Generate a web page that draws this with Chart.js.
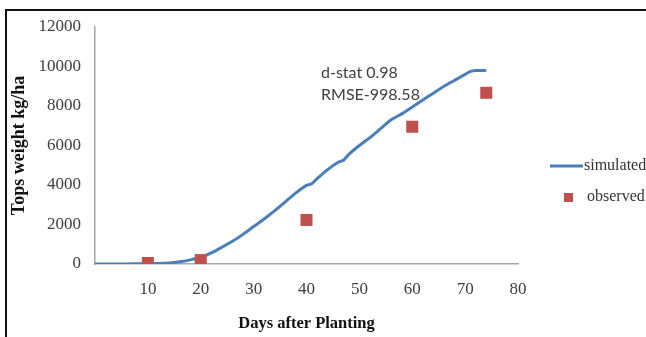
<!DOCTYPE html>
<html>
<head>
<meta charset="utf-8">
<script src="https://cdn.jsdelivr.net/npm/chart.js@4/dist/chart.umd.min.js"></script>
<style>
  html, body { margin: 0; padding: 0; background: #fff; }
  #wrap { position: relative; width: 646px; height: 337px; overflow: hidden; background: #fff; }
  #frame { position: absolute; left: 5px; top: 9px; width: 660px; height: 340px;
           border-left: 2px solid #111; border-top: 2px solid #111; pointer-events: none; }
  canvas { position: absolute; left: 0; top: 0; }
</style>
</head>
<body>
<div id="wrap">
  <canvas id="c" width="646" height="337"></canvas>
  <div id="frame"></div>
</div>
<script>
// ---- data ----
const simDays = [0, 2, 4, 6, 8, 10, 12, 14, 16, 18, 20, 22, 24, 26, 28, 30, 32, 34, 36, 38, 40, 41, 42, 44, 46, 47, 48, 50, 52, 54, 56, 58, 60, 62, 64, 66, 68, 70, 71, 72, 74];
const simValues = [0, 0, 0, 5, 10, 15, 25, 50, 110, 210, 340, 560, 850, 1150, 1500, 1900, 2280, 2700, 3150, 3600, 3980, 4060, 4320, 4780, 5150, 5250, 5550, 6000, 6400, 6850, 7300, 7600, 7950, 8300, 8650, 9000, 9300, 9600, 9750, 9800, 9800];
const obsDays = [10, 20, 40, 60, 74];
const obsValues = [50, 200, 2230, 6950, 8670];
const xTicks = [10, 20, 30, 40, 50, 60, 70, 80];
const yTicks = [0, 2000, 4000, 6000, 8000, 10000, 12000];
const seriesNames = ['simulated', 'observed'];
const statLines = ['d-stat 0.98', 'RMSE-998.58'];
const xTitle = 'Days after Planting';
const yTitle = 'Tops weight kg/ha';

const BLUE = '#4a7ebb';
const RED = '#c0504d';

const simPts = simDays.map((d, i) => ({ x: d, y: simValues[i] }));
const obsPts = obsDays.map((d, i) => ({ x: d, y: obsValues[i] }));

const overlay = {
  id: 'overlay',
  afterDraw(chart) {
    const ctx = chart.ctx;
    ctx.save();
    ctx.fillStyle = '#404040';
    ctx.font = '16px Lato';
    ctx.textAlign = 'left';
    ctx.textBaseline = 'middle';
    ctx.fillText(statLines[0], 321, 73);
    ctx.fillText(statLines[1], 321, 95);
    ctx.strokeStyle = BLUE;
    ctx.lineWidth = 3;
    ctx.beginPath();
    ctx.moveTo(550, 166);
    ctx.lineTo(583, 166);
    ctx.stroke();
    ctx.fillStyle = RED;
    ctx.fillRect(564, 193, 9, 9);
    ctx.fillStyle = '#333';
    ctx.font = '16px "Liberation Serif"';
    ctx.fillText(seriesNames[0], 584, 166);
    ctx.fillText(seriesNames[1], 587, 197);
    ctx.restore();
  }
};

new Chart(document.getElementById('c'), {
  type: 'scatter',
  data: {
    datasets: [
      {
        label: seriesNames[0],
        data: simPts,
        showLine: true,
        borderColor: BLUE,
        backgroundColor: BLUE,
        borderWidth: 3,
        pointRadius: 0,
        pointHoverRadius: 0,
        tension: 0.15,
        order: 2
      },
      {
        label: seriesNames[1],
        data: obsPts,
        showLine: false,
        pointStyle: 'rect',
        pointRadius: 8.5,
        backgroundColor: RED,
        borderColor: RED,
        borderWidth: 0,
        order: 1
      }
    ]
  },
  options: {
    responsive: false,
    animation: false,
    events: [],
    layout: { padding: { left: 8, right: 128, top: 27, bottom: 0 } },
    plugins: { legend: { display: false }, tooltip: { enabled: false } },
    scales: {
      x: {
        type: 'linear',
        min: 0, max: 80,
        afterFit(s) { s.height = 73; },
        afterBuildTicks(s) { s.ticks = [0].concat(xTicks).map(v => ({ value: v })); },
        grid: { display: false, drawTicks: false },
        border: { display: true, color: '#a6a6a6', width: 1.5 },
        ticks: {
          padding: 15,
          color: '#404040',
          font: { family: '"Liberation Serif"', size: 17 },
          callback: v => (v === 0 ? '' : String(v))
        },
        title: {
          display: true,
          text: xTitle,
          color: '#111',
          font: { family: '"Liberation Serif"', size: 16.5, weight: 'bold' },
          padding: { top: 0, bottom: 3 }
        }
      },
      y: {
        min: 0, max: 12000,
        afterFit(s) { s.width = 87; },
        afterBuildTicks(s) { s.ticks = yTicks.map(v => ({ value: v })); },
        grid: { display: false, drawTicks: false },
        border: { display: true, color: '#a6a6a6', width: 1.5 },
        ticks: {
          padding: 14,
          color: '#404040',
          font: { family: '"Liberation Serif"', size: 17 },
          callback: v => String(v)
        },
        title: {
          display: true,
          text: yTitle,
          color: '#111',
          font: { family: '"Liberation Serif"', size: 18, weight: 'bold' },
          padding: { top: 1, bottom: 0 }
        }
      }
    }
  },
  plugins: [overlay]
});
</script>
</body>
</html>
